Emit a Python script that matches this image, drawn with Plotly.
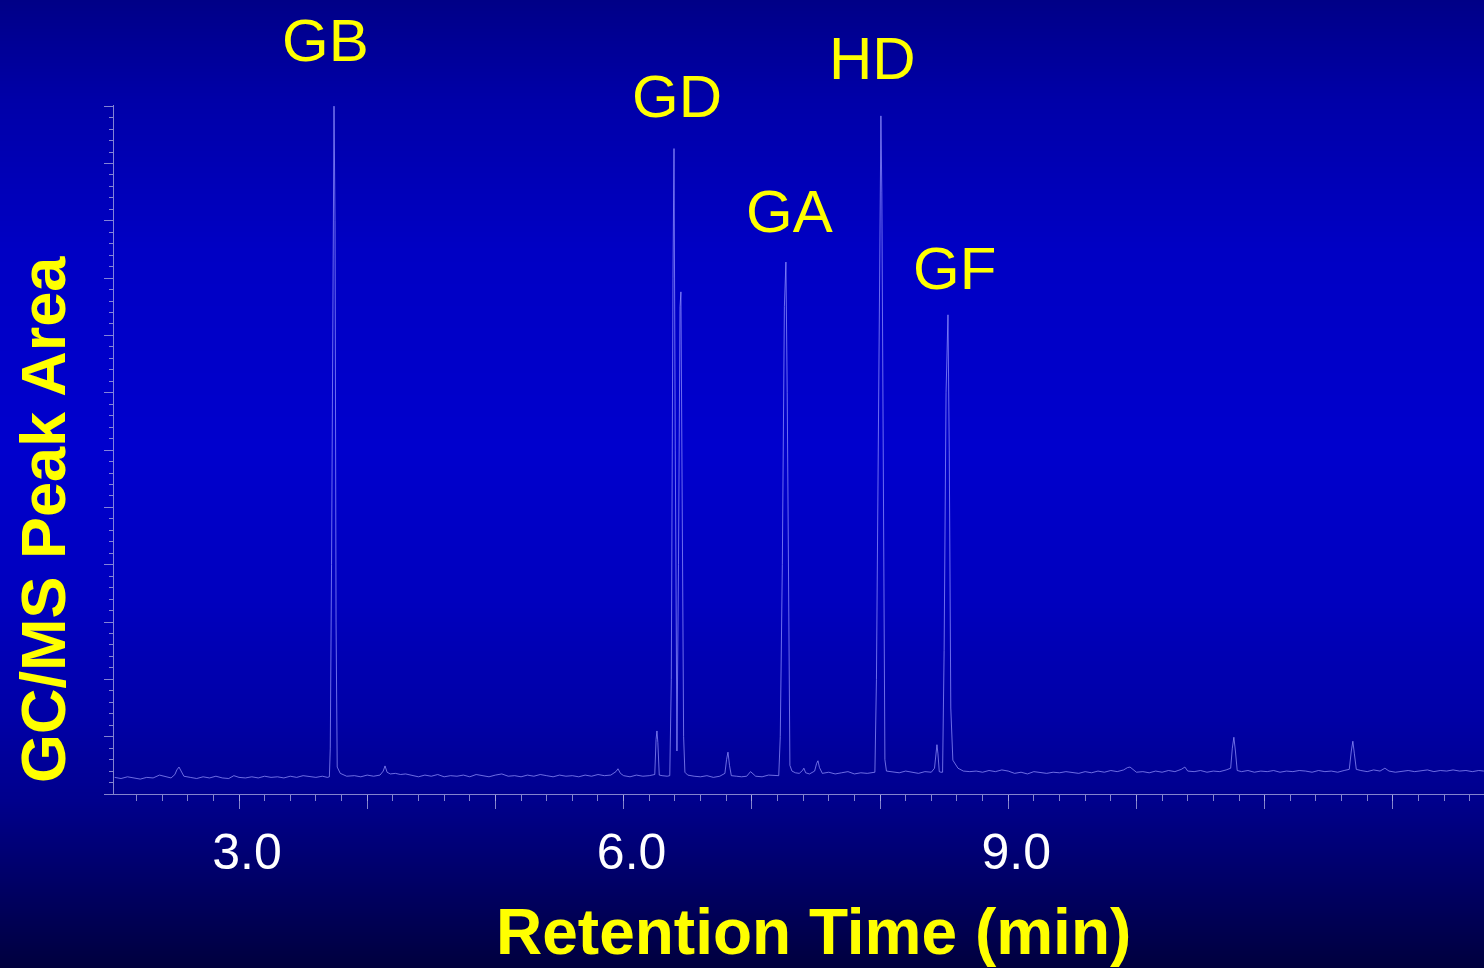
"""GC/MS chromatogram of chemical warfare agents, dark-blue slide style."""
import base64
import struct
import zlib

import plotly.graph_objects as go

# ---- data (time in min, signal in arbitrary area units) ----
t_early = [2.03, 2.08, 2.13, 2.18, 2.23, 2.28, 2.33, 2.38, 2.43, 2.47,
           2.50, 2.515, 2.532, 2.55, 2.57, 2.62, 2.67, 2.72, 2.77, 2.82,
           2.87, 2.92, 2.96, 3.00, 3.05, 3.10, 3.15, 3.20, 3.25, 3.30,
           3.35, 3.40, 3.45, 3.50, 3.55, 3.60, 3.65, 3.69]
s_early = [2.9, 2.7, 3.0, 2.8, 2.6, 2.9, 2.8, 3.3, 3.0, 2.8,
           3.4, 4.2, 4.7, 3.9, 3.1, 2.9, 2.7, 3.0, 2.8, 3.1,
           2.8, 2.7, 3.2, 2.9, 2.8, 3.0, 2.8, 3.1, 2.9, 3.0,
           2.8, 3.1, 2.9, 3.2, 3.0, 2.9, 3.1, 2.9]

t_gb = [3.705, 3.712, 3.722, 3.733, 3.741, 3.749, 3.757, 3.766, 3.79, 3.84]
s_gb = [3.0, 8, 40, 100, 120, 100, 30, 4.7, 3.6, 3.1]

t_mid = [3.90, 3.95, 4.00, 4.05, 4.10, 4.125, 4.139, 4.155, 4.18, 4.22,
         4.26, 4.30, 4.35, 4.40, 4.45, 4.50, 4.55, 4.60, 4.65, 4.70,
         4.75, 4.80, 4.85, 4.90, 4.95, 5.00, 5.05, 5.10, 5.15, 5.20,
         5.25, 5.30, 5.35, 5.40, 5.45, 5.50, 5.55, 5.60, 5.65, 5.70,
         5.75, 5.80, 5.85, 5.90, 5.94, 5.956, 5.975, 6.00, 6.05, 6.10,
         6.15, 6.20, 6.235, 6.243, 6.253, 6.260, 6.267, 6.278, 6.30, 6.34]
s_mid = [3.2, 3.0, 3.3, 3.1, 3.3, 4.0, 4.9, 3.8, 3.5, 3.6,
         3.4, 3.5, 3.2, 3.0, 3.3, 3.1, 3.4, 3.0, 3.2, 3.1,
         3.3, 3.0, 3.4, 3.2, 3.0, 3.3, 3.5, 3.1, 3.2, 3.0,
         3.3, 3.1, 3.4, 3.2, 3.0, 3.3, 3.1, 3.2, 3.0, 3.3,
         3.1, 3.4, 3.2, 3.3, 3.9, 4.4, 3.6, 3.2, 3.0, 3.3,
         3.1, 3.2, 3.3, 3.4, 9.5, 11.0, 9.0, 3.3, 3.2, 3.1]

t_gd = [6.36, 6.372, 6.385, 6.393, 6.403, 6.416, 6.428, 6.44, 6.447,
        6.456, 6.468, 6.478, 6.50]
s_gd = [3.2, 20, 90, 112.6, 60, 7.5, 40, 85, 87.6, 50, 10, 3.8, 3.3]

t_pre_ga = [6.55, 6.60, 6.65, 6.70, 6.75, 6.79, 6.803, 6.814, 6.826, 6.84,
            6.88, 6.92, 6.96, 6.99, 7.03, 7.08, 7.13, 7.18]
s_pre_ga = [3.1, 3.0, 3.2, 2.9, 3.1, 3.6, 6.0, 7.3, 5.0, 3.2,
            3.1, 3.0, 3.1, 3.9, 3.1, 3.0, 3.3, 3.2]

t_ga = [7.21, 7.222, 7.238, 7.254, 7.266, 7.276, 7.288, 7.297, 7.313]
s_ga = [3.2, 10, 40, 85, 92.8, 70, 20, 5, 4.0]

t_pre_hd = [7.34, 7.37, 7.395, 7.406, 7.42, 7.45, 7.49, 7.505, 7.516, 7.528,
            7.55, 7.60, 7.65, 7.70, 7.75, 7.80, 7.85, 7.90, 7.94]
s_pre_hd = [3.7, 3.6, 4.1, 4.5, 3.7, 3.5, 4.0, 5.3, 5.8, 4.6,
            3.6, 3.8, 3.5, 3.7, 3.9, 3.5, 3.7, 3.6, 3.8]

t_hd = [7.96, 7.972, 7.99, 8.002, 8.007, 8.014, 8.028, 8.038, 8.05]
s_hd = [3.8, 20, 80, 115, 118.3, 105, 40, 6, 4.0]

t_pre_gf = [8.10, 8.15, 8.20, 8.25, 8.30, 8.35, 8.40, 8.425, 8.436, 8.444,
            8.452, 8.462, 8.475]
s_pre_gf = [3.9, 3.7, 4.0, 3.8, 3.6, 3.9, 3.8, 4.5, 7.5, 8.6,
            7.0, 3.9, 3.8]

t_gf = [8.488, 8.50, 8.515, 8.53, 8.54, 8.552, 8.568, 8.608, 8.65]
s_gf = [3.8, 25, 70, 83.6, 60, 15, 5.9, 4.5, 4.0]

t_late = [8.70, 8.75, 8.80, 8.85, 8.90, 8.95, 9.00, 9.05, 9.10, 9.15,
          9.20, 9.25, 9.30, 9.35, 9.40, 9.45, 9.50, 9.55, 9.60, 9.65,
          9.70, 9.75, 9.80, 9.85, 9.90, 9.93, 9.95, 9.97, 10.00, 10.05,
          10.10, 10.15, 10.20, 10.25, 10.30, 10.35, 10.378, 10.40, 10.45, 10.50,
          10.55, 10.60, 10.65, 10.70, 10.735, 10.748, 10.760, 10.772, 10.786, 10.82,
          10.87, 10.92, 10.97, 11.02, 11.07, 11.12, 11.17, 11.22, 11.27, 11.32,
          11.37, 11.42, 11.47, 11.52, 11.57, 11.62, 11.66, 11.676, 11.688, 11.70,
          11.715, 11.75, 11.80, 11.85, 11.90, 11.938, 11.97, 12.02, 12.07, 12.12,
          12.17, 12.22, 12.27, 12.32, 12.37, 12.42, 12.47, 12.52, 12.57, 12.62,
          12.67, 12.71]
s_late = [3.9, 4.0, 3.8, 4.1, 3.9, 4.2, 4.0, 3.6, 3.8, 3.5,
          3.9, 3.7, 3.6, 3.8, 3.7, 3.9, 3.8, 3.6, 3.9, 3.7,
          4.0, 3.8, 4.1, 3.9, 4.2, 4.6, 4.7, 4.3, 3.8, 3.9,
          3.7, 4.0, 3.8, 4.1, 3.9, 4.3, 4.7, 4.0, 3.9, 4.1,
          3.8, 4.0, 3.9, 4.2, 4.5, 8.0, 9.9, 7.5, 4.1, 3.9,
          4.1, 3.8, 4.0, 3.9, 4.1, 3.8, 4.0, 3.9, 4.1, 4.0,
          3.8, 4.1, 3.9, 4.0, 3.8, 4.1, 4.3, 7.5, 9.2, 7.0,
          4.3, 4.1, 3.9, 4.2, 4.0, 4.5, 4.0, 3.8, 4.0, 4.1,
          3.9, 4.0, 4.2, 3.9, 4.1, 4.0, 4.2, 4.0, 4.1, 3.9,
          4.1, 4.0]

# agent labels and where they sit (x in minutes)
agent_names = ["GB", "GD", "GA", "HD", "GF"]
agent_label_x = [3.671, 6.416, 7.297, 7.945, 8.584]
agent_label_y = [1.093, 1.012, 0.845, 1.067, 0.763]   # paper fraction

x_tick_vals = [3, 4, 5, 6, 7, 8, 9, 10, 11, 12]
x_tick_text = ["3.0", "", "", "6.0", "", "", "9.0", "", "", ""]

# ---- assemble the trace ----
segments = [(t_early, s_early), (t_gb, s_gb), (t_mid, s_mid), (t_gd, s_gd),
            (t_pre_ga, s_pre_ga), (t_ga, s_ga), (t_pre_hd, s_pre_hd),
            (t_hd, s_hd), (t_pre_gf, s_pre_gf), (t_gf, s_gf), (t_late, s_late)]
time, signal = [], []
for ts, ss in segments:
    assert len(ts) == len(ss), (ts[0], len(ts), len(ss))
    time += ts
    signal += ss

W, H = 1484, 968
M_L, M_R, M_T, M_B = 114, 0, 105, 174
PW, PH = W - M_L - M_R, H - M_T - M_B

YELLOW = "#ffff00"
AXIS = "rgba(175,175,225,0.75)"
FONT = "Liberation Sans, Arial, sans-serif"


def gradient_png(stops, height):
    """Tiny vertical-gradient PNG (1 px wide) as a data URI."""
    rows = []
    for i in range(height):
        for (p0, c0), (p1, c1) in zip(stops, stops[1:]):
            if p0 <= i <= p1:
                f = (i - p0) / (p1 - p0) if p1 > p0 else 0
                rows.append(b"\x00" + bytes(int(round(a + (b - a) * f)) for a, b in zip(c0, c1)))
                break
    raw = b"".join(rows)

    def chunk(tag, data):
        return (struct.pack(">I", len(data)) + tag + data
                + struct.pack(">I", zlib.crc32(tag + data) & 0xFFFFFFFF))

    ihdr = struct.pack(">IIBBBBB", 1, height, 8, 2, 0, 0, 0)
    png = (b"\x89PNG\r\n\x1a\n" + chunk(b"IHDR", ihdr)
           + chunk(b"IDAT", zlib.compress(raw)) + chunk(b"IEND", b""))
    return "data:image/png;base64," + base64.b64encode(png).decode()


bg_stops = [(0, (0, 0, 135)), (100, (0, 0, 168)), (250, (0, 0, 196)),
            (450, (0, 0, 205)), (600, (0, 0, 190)), (720, (0, 0, 165)),
            (800, (0, 0, 140)), (860, (0, 0, 112)), (H - 1, (0, 0, 62))]

fig = go.Figure()
fig.add_trace(go.Scatter(
    x=time, y=signal, mode="lines",
    line=dict(color="rgba(150,150,255,0.72)", width=1),
    hoverinfo="skip", showlegend=False,
))

fig.update_layout(
    width=W, height=H,
    margin=dict(l=M_L, r=M_R, t=M_T, b=M_B, pad=0),
    paper_bgcolor="#0000a8",
    plot_bgcolor="rgba(0,0,0,0)",
    font=dict(family=FONT, color="white"),
    showlegend=False,
    images=[dict(
        source=gradient_png(bg_stops, H),
        xref="paper", yref="paper",
        x=-M_L / PW, y=1 + M_T / PH,
        sizex=W / PW, sizey=H / PH,
        xanchor="left", yanchor="top",
        sizing="stretch", layer="below",
    )],
)

fig.update_xaxes(
    range=[2.025, 12.711],
    showgrid=False, zeroline=False,
    showline=True, linecolor=AXIS, linewidth=1,
    ticks="outside", ticklen=14, tickwidth=1, tickcolor=AXIS,
    tickmode="array", tickvals=x_tick_vals, ticktext=x_tick_text,
    tickfont=dict(size=50, color="white", family=FONT),
    ticklabelshift=8, ticklabelstandoff=0,
    minor=dict(tickmode="linear", tick0=2.0, dtick=0.2, ticks="outside",
               ticklen=6, tickwidth=1, tickcolor=AXIS, showgrid=False),
)
fig.update_yaxes(
    range=[0, 120.2],
    showgrid=False, zeroline=False,
    showline=True, linecolor=AXIS, linewidth=1,
    ticks="outside", ticklen=9, tickwidth=1, tickcolor=AXIS,
    tick0=0, dtick=10, showticklabels=False,
    minor=dict(tick0=0, dtick=2, ticks="outside", ticklen=4,
               tickwidth=1, tickcolor=AXIS, showgrid=False),
)

# axis titles
fig.add_annotation(
    text="<b>Retention Time (min)</b>", xref="paper", yref="paper",
    x=(813 - M_L) / PW, y=-(932 - (H - M_B)) / PH,
    xanchor="center", yanchor="middle", showarrow=False,
    font=dict(size=64, color=YELLOW, family=FONT),
)
fig.add_annotation(
    text="<b>GC/MS Peak Area</b>", xref="paper", yref="paper",
    x=(43 - M_L) / PW, y=((H - M_B) - 520) / PH, textangle=-90,
    xanchor="center", yanchor="middle", showarrow=False,
    font=dict(size=63, color=YELLOW, family=FONT),
)

# agent labels
for name, lx, ly in zip(agent_names, agent_label_x, agent_label_y):
    fig.add_annotation(
        text=name, x=lx, y=ly, xref="x", yref="paper",
        xanchor="center", yanchor="middle", showarrow=False,
        font=dict(size=60, color=YELLOW, family=FONT),
    )

# drop the default page margin so the figure fills the window exactly
fig.write_html(
    "out.html",
    config={"displayModeBar": False},
    post_script="document.body.style.margin='0';document.body.style.overflow='hidden';",
)
